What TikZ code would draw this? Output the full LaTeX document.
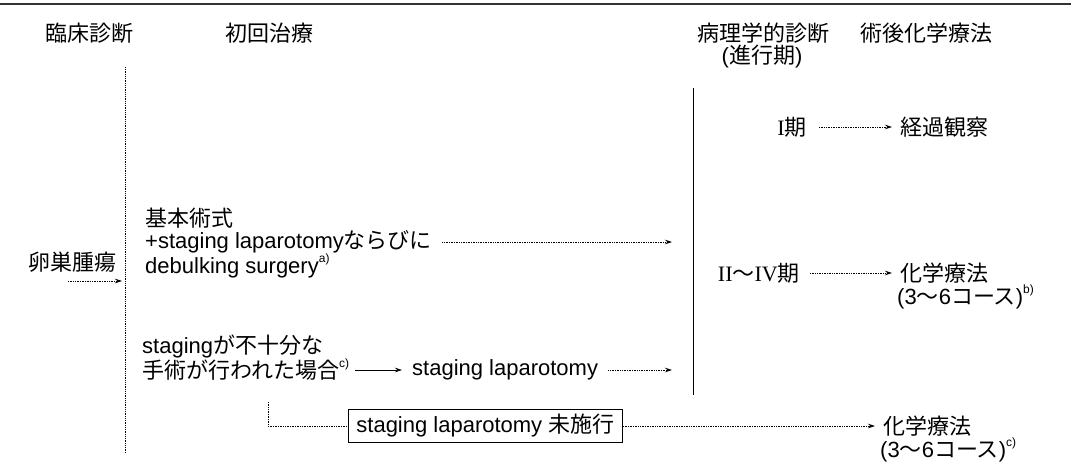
\documentclass[tikz,border=0pt]{standalone}
\usepackage{fontspec}
\setmainfont{Liberation Sans}
\newfontfamily\jp{Noto Sans CJK JP}
\newfontfamily\rom{Liberation Serif}
\usetikzlibrary{arrows.meta}
\newcommand{\supnote}[1]{\raisebox{0.5em}{\fontsize{12}{12}\selectfont #1}}
\begin{document}
\begin{tikzpicture}[x=1pt,y=-1pt,
  txt/.style={inner sep=0pt, font=\fontsize{22}{26}\selectfont},
  arr/.style={densely dotted, line width=0.7pt, -{Stealth[length=7pt,width=4.5pt]}},
  sarr/.style={line width=0.6pt, -{Stealth[length=7pt,width=4.5pt]}},
  vdot/.style={densely dotted, line width=0.8pt},
  vsol/.style={line width=0.8pt},
  boxed/.style={txt, draw, line width=0.8pt, inner xsep=8pt, inner ysep=5pt}]
\useasboundingbox (0,0) rectangle (1071,465);
\draw[line width=1.6pt, black!80] (0,4) -- (1071,4);
% headers
\node[txt, anchor=west] (h1) at (45,33) {\jp 臨床診断};
\node[txt, anchor=west] (h2) at (225,33) {\jp 初回治療};
\node[txt, anchor=west] (h3) at (697,33) {\jp 病理学的診断};
\node[txt] (h3b) at (762,57) {(\jp 進行期\rm )};
\node[txt, anchor=west] (h4) at (860,33) {\jp 術後化学療法};
% left column
\coordinate (l1) at (125,67);
\coordinate (l2) at (125,453);
\draw[vdot] (l1) -- (l2);
\node[txt, anchor=east] (ov) at (117,262) {\jp 卵巣腫瘍};
\coordinate (ova) at (68,281);
\coordinate (ovb) at (122,281);
\draw[arr] (ova) -- (ovb);
% right vertical
\coordinate (r1) at (693,88);
\coordinate (r2) at (693,395);
\draw[vsol] (r1) -- (r2);
% surgery block
\node[txt, anchor=west] (s1) at (145,218) {\jp 基本術式};
\node[txt, anchor=west] (s2) at (145,242) {+staging laparotomy{\jp ならびに}};
\node[txt, anchor=west] (s3) at (145,266) {debulking surgery\supnote{a)}};
\coordinate (s2e) at (672,242);
\draw[arr] ([xshift=10pt]s2.east) -- (s2e);
% stages
\node[txt, anchor=east] (st1) at (807,127) {{\rom I}{\jp 期}};
\node[txt, anchor=west] (o1) at (900,127) {\jp 経過観察};
\draw[arr] ([xshift=12pt]st1.east) -- ([xshift=-8pt]o1.west);
\node[txt, anchor=east] (st2) at (800,273) {{\rom II}{\jp 〜}{\rom IV}{\jp 期}};
\node[txt, anchor=west] (o2) at (900,273) {\jp 化学療法};
\node[txt, anchor=west] (o2b) at (897,297) {(3{\jp 〜}6{\jp コース})\supnote{b)}};
\draw[arr] ([xshift=10pt]st2.east) -- ([xshift=-8pt]o2.west);
% incomplete staging
\node[txt, anchor=west] (i1) at (142,346) {staging{\jp が不十分な}};
\node[txt, anchor=west] (i2) at (142,370) {{\jp 手術が行われた場合}\supnote{c)}};
\node[txt, anchor=west] (sl) at (412,370) {staging laparotomy};
\draw[sarr] ([xshift=6pt]i2.east) -- ([xshift=-10pt]sl.west);
\coordinate (sle) at (672,370);
\draw[arr] ([xshift=10pt]sl.east) -- (sle);
% not performed
\node[boxed, anchor=west] (nb) at (348,426) {staging laparotomy {\jp 未施行}};
\coordinate (br) at (268,402);
\draw[densely dotted, line width=0.7pt] (br) |- (nb.west);
\node[txt, anchor=west] (o3) at (883,426) {\jp 化学療法};
\node[txt, anchor=west] (o3b) at (880,450) {(3{\jp 〜}6{\jp コース})\supnote{c)}};
\draw[arr] (nb.east) -- ([xshift=-8pt]o3.west);
\end{tikzpicture}
\end{document}
